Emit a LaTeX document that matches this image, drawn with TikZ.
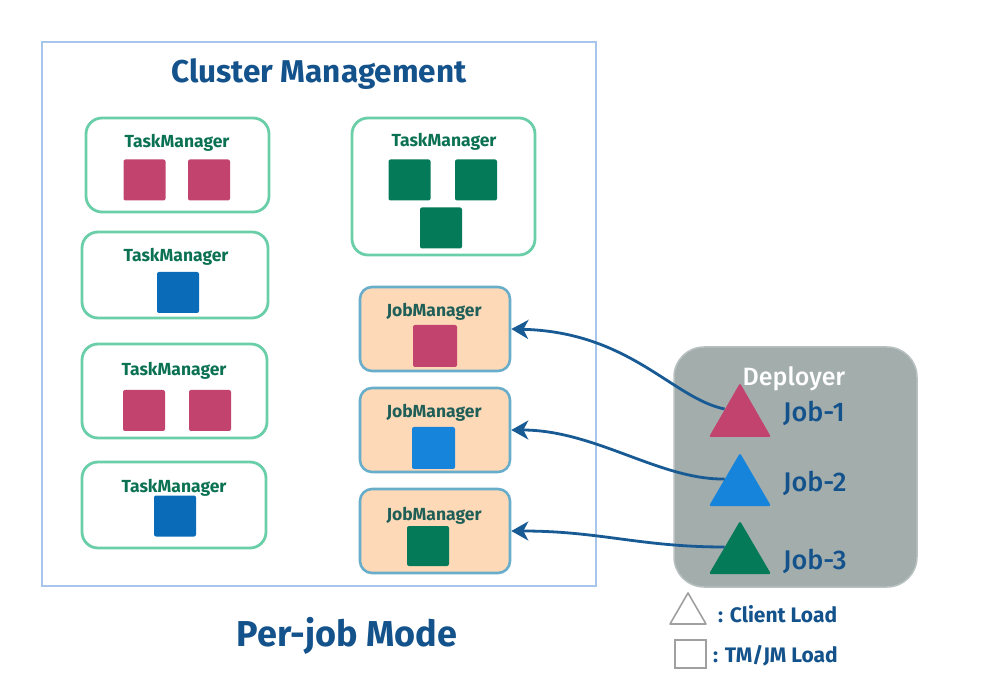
\documentclass[tikz,border=0pt]{standalone}
\usepackage{fontspec}
\setmainfont{Fira Sans}
\newfontfamily\firamed{Fira Sans Medium}
\usetikzlibrary{arrows.meta}
\definecolor{mag}{HTML}{C2446E}
\definecolor{tmblue}{HTML}{0A6CB8}
\definecolor{jmblue}{HTML}{1784DC}
\definecolor{grn}{HTML}{057A58}
\definecolor{tmline}{HTML}{6ACFA8}
\definecolor{tmtext}{HTML}{0B7153}
\definecolor{jmtext}{HTML}{1F5F58}
\definecolor{jmfill}{HTML}{FDD9B7}
\definecolor{jmline}{HTML}{68AECB}
\definecolor{outerc}{HTML}{A8C6EC}
\definecolor{dep}{HTML}{A2ADAC}
\definecolor{depline}{HTML}{B8C0C0}
\definecolor{navy}{HTML}{14528C}
\definecolor{arrc}{HTML}{185A94}
\definecolor{leg}{HTML}{A0A0A0}
\begin{document}
\begin{tikzpicture}[x=1pt,y=-1pt,
  outerbox/.style={draw=outerc, line width=2.4pt, fill=white, inner sep=0pt},
  tmbox/.style={draw=tmline, line width=2.8pt, rounded corners=16pt, fill=white, inner sep=0pt},
  jmbox/.style={draw=jmline, line width=2.6pt, rounded corners=12pt, fill=jmfill, inner sep=0pt, minimum width=150pt, minimum height=84pt},
  sq/.style={rounded corners=2pt, inner sep=0pt, minimum width=42pt, minimum height=41pt},
  tmlabel/.style={anchor=base, text=tmtext, font=\bfseries\fontsize{17.5}{20}\selectfont, inner sep=0pt},
  jmlabel/.style={anchor=base, text=jmtext, font=\bfseries\fontsize{17.5}{20}\selectfont, inner sep=0pt},
  joblabel/.style={anchor=base west, text=navy, font=\firamed\fontsize{27}{30}\selectfont, inner sep=0pt},
  leglabel/.style={anchor=base west, text=navy, font=\bfseries\fontsize{21}{24}\selectfont, inner sep=0pt},
  arr/.style={draw=arrc, line width=2.8pt, -{Stealth[length=17pt,width=19pt,inset=5pt]}}
]
\useasboundingbox (0,0) rectangle (999,692);
\fill[white] (0,0) rectangle (999,692);

% cluster box
\node[outerbox, minimum width=554pt, minimum height=544pt] (cluster) at (319,314) {};
\node[anchor=base, text=navy, font=\bfseries\fontsize{31.5}{34}\selectfont, inner sep=0pt] (title) at (319,83) {Cluster Management};

% TaskManagers left
\node[tmbox, minimum width=183pt, minimum height=94pt] (tm1) at (177.5,165) {};
\node[tmlabel] (tm1l) at (177,148) {TaskManager};
\node[sq, fill=mag] (tm1a) at (144.5,180) {};
\node[sq, fill=mag] (tm1b) at (209,180) {};

\node[tmbox, minimum width=186pt, minimum height=86pt] (tm2) at (175,275) {};
\node[tmlabel] (tm2l) at (176,262) {TaskManager};
\node[sq, fill=tmblue] (tm2a) at (178,292.5) {};

\node[tmbox, minimum width=185pt, minimum height=94pt] (tm3) at (174.5,391) {};
\node[tmlabel] (tm3l) at (174,376) {TaskManager};
\node[sq, fill=mag] (tm3a) at (144,410.5) {};
\node[sq, fill=mag] (tm3b) at (210,410.5) {};

\node[tmbox, minimum width=184pt, minimum height=86pt] (tm4) at (174,505) {};
\node[tmlabel] (tm4l) at (174,493) {TaskManager};
\node[sq, fill=tmblue] (tm4a) at (175,516) {};

% TaskManager right
\node[tmbox, minimum width=183pt, minimum height=137pt] (tm5) at (443.5,186.5) {};
\node[tmlabel] (tm5l) at (444,147) {TaskManager};
\node[sq, fill=grn] (tm5a) at (409.5,180) {};
\node[sq, fill=grn] (tm5b) at (476,180) {};
\node[sq, fill=grn] (tm5c) at (441,228) {};

% JobManagers
\node[jmbox] (jm1) at (435,329) {};
\node[jmlabel] (jm1l) at (434,317) {JobManager};
\node[sq, fill=mag, minimum width=44pt, minimum height=42pt] (jm1a) at (435,346) {};

\node[jmbox] (jm2) at (435,430) {};
\node[jmlabel] (jm2l) at (434,418) {JobManager};
\node[sq, fill=jmblue, minimum width=43pt, minimum height=42pt] (jm2a) at (433.5,448) {};

\node[jmbox] (jm3) at (435,531) {};
\node[jmlabel] (jm3l) at (434,520) {JobManager};
\node[sq, fill=grn, minimum width=42pt, minimum height=40pt] (jm3a) at (428,546) {};

\node[anchor=base, text=navy, font=\bfseries\fontsize{36}{40}\selectfont, inner sep=0pt] (mode) at (347,646) {Per-job Mode};

% Deployer
\node[draw=depline, line width=1.5pt, fill=dep, rounded corners=30pt, minimum width=243pt, minimum height=240pt, inner sep=0pt] (deployer) at (795.5,467) {};
\node[anchor=base, text=white, font=\firamed\fontsize{25}{28}\selectfont, inner sep=0pt] (depl) at (794,386) {Deployer};

\fill[mag, rounded corners=1.5pt] (709,437) -- (740,383) -- (771,437) -- cycle;
\fill[jmblue, rounded corners=1.5pt] (709,506) -- (740,453) -- (771,506) -- cycle;
\fill[grn, rounded corners=1.5pt] (709,574) -- (740,521) -- (771,574) -- cycle;
\coordinate (t1) at (724.5,409);
\coordinate (t2) at (724.5,479);
\coordinate (t3) at (724.5,547);

\node[joblabel] (j1) at (783,422) {Job-1};
\node[joblabel] (j2) at (783,492) {Job-2};
\node[joblabel] (j3) at (783,569) {Job-3};

% arrows
\draw[arr] (t1) .. controls (672,398) and (630,332) .. (jm1.east);
\draw[arr] (t2) .. controls (660,480) and (595,430) .. (jm2.east);
\draw[arr] (t3) .. controls (640,547) and (600,531) .. (jm3.east);

% legend
\draw[leg, line width=1.6pt, line join=round] (670,624) -- (688,593) -- (706,624) -- cycle;
\node[leglabel] (lg1) at (718,622) {: Client Load};
\draw[leg, line width=1.6pt] (675,640) rectangle (706,668);
\node[leglabel] (lg2) at (713,662) {: TM/JM Load};
\end{tikzpicture}
\end{document}
